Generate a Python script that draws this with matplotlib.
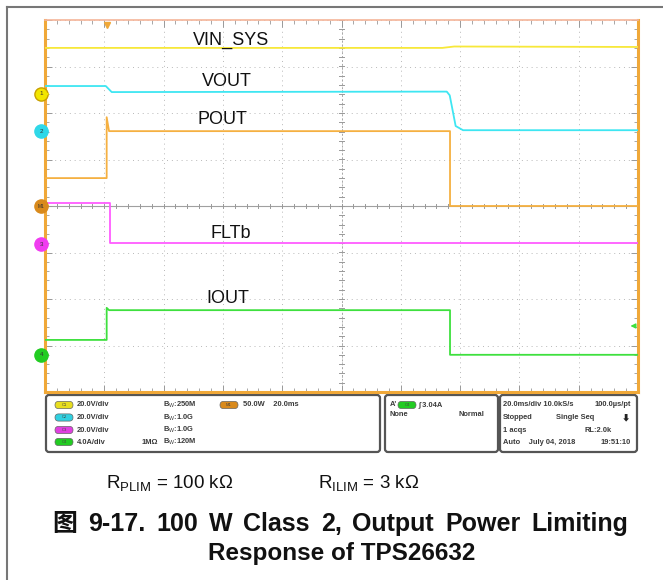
import numpy as np
import matplotlib
matplotlib.use("Agg")
import matplotlib.pyplot as plt
from matplotlib.patches import FancyBboxPatch
from matplotlib.ticker import MultipleLocator

plt.rcParams['font.family'] = ['Liberation Sans', 'Noto Sans CJK SC', 'DejaVu Sans']
plt.rcParams['mathtext.fontset'] = 'custom'
plt.rcParams['mathtext.rm'] = 'Liberation Sans'
plt.rcParams['mathtext.it'] = 'Liberation Sans'

# scope capture, time in ms (20 ms/div), levels in screen divisions
t_vin = [-20, 114, 118, 180]
v_vin = [3.40, 3.40, 3.43, 3.42]

t_vout = [-20, 0.5, 2.5, 115.5, 116.5, 118.5, 121, 180]
v_vout = [2.58, 2.58, 2.45, 2.46, 2.38, 1.72, 1.63, 1.63]

t_pout = [-20, 0.8, 0.8, 1.6, 116.6, 116.6, 180]
v_pout = [0.60, 0.60, 1.91, 1.61, 1.61, 0.0, 0.0]

t_flt = [-20, 2.0, 2.0, 180]
v_flt = [0.06, 0.06, -0.80, -0.80]

t_iout = [-20, 0.8, 0.8, 1.6, 116.6, 116.6, 180]
v_iout = [-2.88, -2.88, -2.19, -2.24, -2.24, -3.20, -3.20]

trace_names = ["VIN_SYS", "VOUT", "POUT", "FLTb", "IOUT"]
label_t = [42.7, 41.5, 40.0, 42.7, 41.5]
label_v = [3.57, 2.67, 1.85, -0.60, -1.98]

# channel ground markers (label, level, colour)
markers = [("1", 2.41, "#f2e600"), ("2", 1.61, "#2fd8e8"), ("M1", 0.0, "#d98a1c"),
           ("3", -0.82, "#f03cf0"), ("4", -3.20, "#22cc22")]
trig_level = -2.58

title_words = ["图", "9-17.", "100", "W", "Class", "2,", "Output", "Power", "Limiting"]
title_line2 = "Response of TPS26632"

c_vin, c_vout, c_pout, c_flt, c_iout = "#f7e83a", "#3ee6f2", "#f5b041", "#ff5cff", "#3ee03e"
frame_orange = "#f0a838"

W, H = 663, 580
fig = plt.figure(figsize=(W / 100, H / 100), dpi=100)

# page overlay in pixel coordinates
ov = fig.add_axes([0, 0, 1, 1])
ov.set_xlim(0, W)
ov.set_ylim(H, 0)
ov.axis("off")
ov.plot([7, 7], [7, H], color="#777777", lw=1.5)
ov.plot([7, W], [7, 7], color="#777777", lw=1.5)

# scope screen
x0, x1, y0, y1 = 45, 638, 20, 392
ax = fig.add_axes([x0 / W, 1 - y1 / H, (x1 - x0) / W, (y1 - y0) / H])
ax.set_xlim(-20, 180)
ax.set_ylim(-4, 4)
ax.set_facecolor("white")
for xv in np.arange(-20, 181, 20):
    ax.axvline(xv, color="#b8b8b8", lw=0.7, ls=(0, (1, 4)), zorder=1)
for yv in np.arange(-4, 5, 1):
    ax.axhline(yv, color="#b8b8b8", lw=0.7, ls=(0, (1, 4)), zorder=1)
ax.axvline(80, color="#a8a8a8", lw=0.7, ls=(0, (2, 2)), zorder=1)
ax.axhline(0, color="#a0a0a0", lw=0.8, zorder=1)
# minor ticks on the centre cross
for xv in np.arange(-20, 181, 4):
    ax.plot([xv, xv], [-0.05, 0.05], color="#999999", lw=0.7, zorder=1)
for yv in np.arange(-4, 4.01, 0.2):
    ax.plot([79.2, 80.8], [yv, yv], color="#999999", lw=0.7, zorder=1)

ax.xaxis.set_major_locator(MultipleLocator(20))
ax.xaxis.set_minor_locator(MultipleLocator(4))
ax.yaxis.set_major_locator(MultipleLocator(1))
ax.yaxis.set_minor_locator(MultipleLocator(0.2))
ax.tick_params(which="both", direction="in", top=True, right=True, color="#999999",
               labelbottom=False, labelleft=False)
ax.tick_params(which="major", length=5, width=0.7)
ax.tick_params(which="minor", length=3, width=0.6)
for side in ["left", "bottom", "right"]:
    ax.spines[side].set_color(frame_orange)
    ax.spines[side].set_linewidth(2.2)
ax.spines["top"].set_color("#f5b59a")
ax.spines["top"].set_linewidth(1.2)

ax.plot(t_vin, v_vin, color=c_vin, lw=1.3, zorder=3)
ax.plot(t_vout, v_vout, color=c_vout, lw=1.3, zorder=3)
ax.plot(t_pout, v_pout, color=c_pout, lw=1.3, zorder=3)
ax.plot(t_flt, v_flt, color=c_flt, lw=1.3, zorder=3)
ax.plot(t_iout, v_iout, color=c_iout, lw=1.3, zorder=3)

for name, tx, ty in zip(trace_names, label_t, label_v):
    ax.text(tx, ty, name, fontsize=13, ha="center", va="center", color="#111111", zorder=4)

# trigger position marker and trigger level arrow
ax.plot([0.9], [3.9], marker="v", color=frame_orange, ms=5, clip_on=False, zorder=5)
ax.annotate("", xy=(176.5, trig_level), xytext=(180, trig_level),
            arrowprops=dict(arrowstyle="-|>", color=c_iout, lw=1, mutation_scale=7),
            annotation_clip=False, zorder=5)

for lab, lv, col in markers:
    ax.plot([-21.2], [lv], marker="o", ms=9.5, color=col, mec="#c8a000" if lab == "1" else col,
            clip_on=False, zorder=6)
    ax.text(-21.2, lv, lab, fontsize=3.5 if lab == "M1" else 4.5, ha="center", va="center",
            color="#333333", zorder=7, clip_on=False)
    ax.annotate("", xy=(-17.8, lv), xytext=(-20.2, lv),
                arrowprops=dict(arrowstyle="-|>", color=col, lw=0.8, mutation_scale=5),
                annotation_clip=False, zorder=6)

# settings panel under the screen
def panel(xa, xb, ya, yb):
    ov.add_patch(FancyBboxPatch((xa, ya), xb - xa, yb - ya,
                                boxstyle="round,pad=0,rounding_size=3",
                                fc="white", ec="#555555", lw=1.6))

def chip(x, y, col, lab):
    ov.add_patch(FancyBboxPatch((x, y - 3.6), 18, 7.2, boxstyle="round,pad=0,rounding_size=3.6",
                                fc=col, ec="#666666", lw=0.5))
    ov.text(x + 9, y, lab, fontsize=3, ha="center", va="center", color="#444444")

panel(46, 380, 395, 452)
panel(385, 498, 395, 452)
panel(500, 637, 395, 452)

txt = dict(fontsize=5.4, fontweight="bold", color="#3a3a3a", va="center")
rows = [405, 417.5, 430, 442]
ch_cols = ["#e8de20", "#2fd0e0", "#e040e0", "#22cc22"]
ch_div = ["20.0V/div", "20.0V/div", "20.0V/div", "4.0A/div"]
ch_bw = ["250M", "1.0G", "1.0G", "120M"]
for i, yy in enumerate(rows):
    chip(55, yy, ch_cols[i], "C%d" % (i + 1))
    ov.text(77, yy, ch_div[i], **txt)
    ov.text(163, yy, r"B$_{\mathrm{W}}$:" + ch_bw[i], **txt)
ov.text(142, rows[3], "1MΩ", **txt)
chip(220, rows[0], "#d98a1c", "M1")
ov.text(243, rows[0], "50.0W    20.0ms", **txt)

ov.text(390, rows[0], "A'", **txt)
chip(398, rows[0], "#22cc22", "C4")
ov.text(418, rows[0], "∫ 3.04A", **txt)
ov.text(390, 414, "None", **txt)
ov.text(484, 414, "Normal", ha="right", **txt)

ov.text(503, rows[0], "20.0ms/div 10.0kS/s", **txt)
ov.text(631, rows[0], "100.0µs/pt", ha="right", **txt)
ov.text(503, rows[1], "Stopped", **txt)
ov.text(556, rows[1], "Single Seq", **txt)
ov.text(626, rows[1] + 1, "⬇", fontsize=6, color="#222222", ha="center", va="center")
ov.text(503, rows[2], "1 acqs", **txt)
ov.text(612, rows[2], "RL:2.0k", ha="right", **txt)
ov.text(503, rows[3], "Auto    July 04, 2018", **txt)
ov.text(631, rows[3], "19:51:10", ha="right", **txt)

# caption
ov.text(106, 483, r"R$_{\mathrm{PLIM}}$ = 100 k$\Omega$", fontsize=13.5, va="center", color="#111111")
ov.text(318, 483, r"R$_{\mathrm{ILIM}}$ = 3 k$\Omega$", fontsize=13.5, va="center", color="#111111")

# first title line is set word by word, spread between 52 and 628 px
renderer = fig.canvas.get_renderer()
cap = dict(fontsize=18, fontweight="bold", va="baseline", color="#111111")
words = [ov.text(0, 531, w, **cap) for w in title_words]
widths = [w.get_window_extent(renderer).width for w in words]
gap = (628 - 52 - sum(widths)) / (len(words) - 1)
xpos = 52
for w, wd in zip(words, widths):
    w.set_x(xpos)
    xpos += wd + gap
ov.text(342, 560, title_line2, fontsize=17.5, fontweight="bold",
        ha="center", va="baseline", color="#111111")

fig.savefig("out.png", dpi=100)
